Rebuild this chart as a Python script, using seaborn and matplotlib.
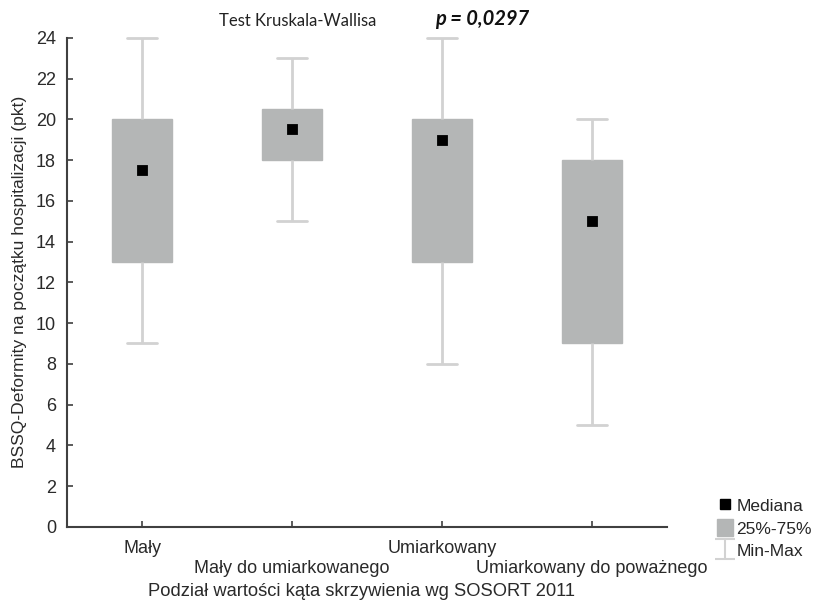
import numpy as np
import pandas as pd
import seaborn as sns
import matplotlib
matplotlib.use("Agg")
import matplotlib.pyplot as plt
from matplotlib.path import Path
from matplotlib.lines import Line2D
from matplotlib.patches import Patch

# Summary statistics per SOSORT 2011 curvature category
categories = ["Mały", "Mały do umiarkowanego", "Umiarkowany", "Umiarkowany do poważnego"]
minimum = [9, 15, 8, 5]
q1 = [13, 18, 13, 9]
median = [17.5, 19.5, 19, 15]
q3 = [20, 20.5, 20, 18]
maximum = [24, 23, 24, 20]
y_ticks = list(range(0, 25, 2))

# Five points per group reproduce min / quartiles / max exactly
rows = []
for cat, a, b, c, d, e in zip(categories, minimum, q1, median, q3, maximum):
    for v in (a, b, c, d, e):
        rows.append({"grupa": cat, "wynik": v})
df = pd.DataFrame(rows)
med_df = pd.DataFrame({"grupa": categories, "mediana": median})

sns.set_style("white")
plt.rcParams["font.family"] = ["Liberation Sans", "DejaVu Sans"]

box_color = "#b4b6b6"
whisk_color = "#d2d2d2"
axis_color = "#404040"
text_color = "#2a2a2a"

fig = plt.figure(figsize=(8.18, 6.09), dpi=100)
ax = fig.add_axes([0.082, 0.135, 0.733, 0.803])

sns.boxplot(
    data=df, x="grupa", y="wynik", order=categories, ax=ax,
    width=0.4, whis=(0, 100), showfliers=False,
    boxprops=dict(facecolor=box_color, edgecolor=box_color, linewidth=1),
    whiskerprops=dict(color=whisk_color, linewidth=2),
    capprops=dict(color=whisk_color, linewidth=2),
    medianprops=dict(visible=False),
)
for line in ax.lines:
    line.set_clip_on(False)

sns.scatterplot(data=med_df, x="grupa", y="mediana", ax=ax, marker="s",
                s=55, color="black", edgecolor="black", zorder=5, legend=False)

ax.set_xlim(-0.5, 3.5)
ax.set_ylim(0, 24)
ax.set_yticks(y_ticks)
ax.set_yticklabels([str(t) for t in y_ticks], fontsize=13, color=text_color)
ax.set_xticks(range(len(categories)))
ax.set_xticklabels([])
for i, cat in enumerate(categories):
    ax.text(i, -1.05 if i % 2 == 0 else -2.05, cat, ha="center", va="center",
            fontsize=13, color=text_color)

ax.tick_params(axis="both", direction="in", length=4, width=1.2,
               color=axis_color, left=True, bottom=True, pad=8)
for side in ("top", "right"):
    ax.spines[side].set_visible(False)
for side in ("left", "bottom"):
    ax.spines[side].set_color(axis_color)
    ax.spines[side].set_linewidth(1.5)

ax.set_xlabel("")
ax.set_ylabel("BSSQ-Deformity na początku hospitalizacji (pkt)", fontsize=12.6,
              color=text_color, va="center")
ax.yaxis.set_label_coords(-0.08, 0.5)
fig.text(0.364, 0.966, "Test Kruskala-Wallisa", ha="center", va="center",
         fontsize=12, family="Lato", color="#222222")
fig.text(0.589, 0.968, "p = 0,0297", ha="center", va="center",
         fontsize=14.5, family="Lato", weight="bold", style="italic", color="#111111")
fig.text(0.442, 0.028, "Podział wartości kąta skrzywienia wg SOSORT 2011",
         ha="center", va="center", fontsize=13.2, color=text_color)

# Legend: median square, quartile box, min-max I-beam
ibeam = Path([(-1, 1), (1, 1), (0, 1), (0, -1), (-1, -1), (1, -1)],
             [Path.MOVETO, Path.LINETO, Path.MOVETO, Path.LINETO, Path.MOVETO, Path.LINETO])
handles = [
    Line2D([], [], linestyle="none", marker="s", markersize=7, color="black"),
    Patch(facecolor=box_color, edgecolor=box_color),
    Line2D([], [], linestyle="none", marker=ibeam, markersize=14,
           markerfacecolor="none", markeredgecolor=whisk_color, markeredgewidth=1.5),
]
labels = ["Mediana", "25%-75%", "Min-Max"]
fig.legend(handles, labels, loc="center left", bbox_to_anchor=(0.866, 0.133),
           frameon=False, fontsize=12.5, handlelength=0.9, handleheight=1.1,
           handletextpad=0.2, labelspacing=0.3, borderpad=0)

fig.savefig("out.png", dpi=100)
